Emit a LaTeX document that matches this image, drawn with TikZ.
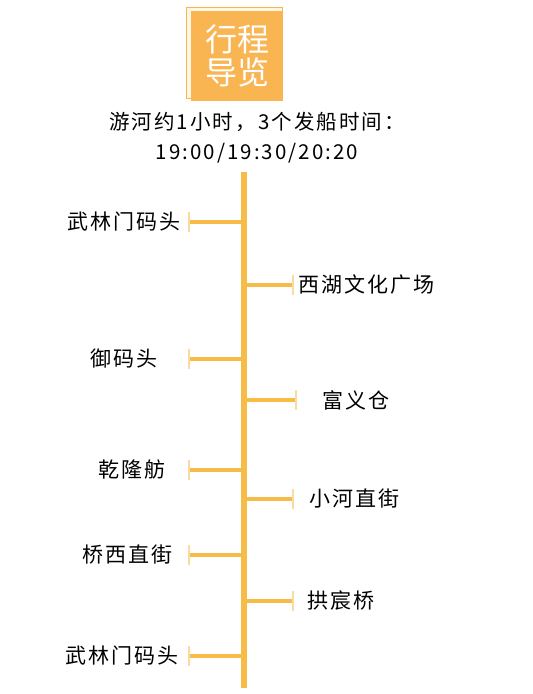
\documentclass[tikz,border=0pt]{standalone}
\usepackage{fontspec}
\newfontfamily\cjk{Noto Sans CJK SC}
\newfontfamily\cjkwide[LetterSpace=10]{Noto Sans CJK SC}
\usetikzlibrary{positioning}
\definecolor{lineorange}{RGB}{247,187,72}
\definecolor{titleorange}{RGB}{248,181,82}
\definecolor{tickorange}{RGB}{250,218,160}
\definecolor{cream}{RGB}{255,246,228}

\begin{document}
\begin{tikzpicture}[
        x=1pt, y=-1pt,
        station/.style={font=\cjkwide\fontsize{21}{25}\selectfont, inner sep=0pt, text=black},
        spine/.style={draw=lineorange, line width=6pt},
        branch/.style={draw=lineorange, line width=3.5pt},
        tickmark/.style={draw=tickorange, line width=1.3pt}
    ]
    \useasboundingbox (0,0) rectangle (533,694);

    % Title card
    \node[draw=titleorange, fill=cream, line width=1pt, minimum width=96pt, minimum height=91pt, inner sep=0pt] (back) at (234.5,52.5) {};
    \node[fill=titleorange, minimum width=92pt, minimum height=90pt, inner sep=0pt, align=center, text=white, font=\cjk\fontsize{32}{33}\selectfont] (title) at (237,56) {行程\\导览};

    % Intro text
    \node[font=\cjkwide\fontsize{20.5}{30}\selectfont, align=center, inner sep=0pt, text=black] (intro) at (257,138) {游河约1小时，3个发船时间：\\19:00/19:30/20:20};

    % Spine
    \coordinate (top) at (243.5,172);
    \coordinate (bottom) at (243.5,688);
    \draw[spine] (top) -- (bottom);

    % Left stops
    \node[station, anchor=east] (wulin) at (181,222) {武林门码头};
    \node[station, anchor=east] (yu) at (158,359) {御码头};
    \node[station, anchor=east] (qianlong) at (166,470) {乾隆舫};
    \node[station, anchor=east] (qiaoxi) at (173,555) {桥西直街};
    \node[station, anchor=east] (wulinend) at (179,656) {武林门码头};

    % Right stops
    \node[station, anchor=west] (xihu) at (298,285) {西湖文化广场};
    \node[station, anchor=west] (fuyi) at (322,400) {富义仓};
    \node[station, anchor=west] (xiaohe) at (309,499) {小河直街};
    \node[station, anchor=west] (gongchen) at (307,601) {拱宸桥};

    % Branch points
    \coordinate (s1) at (243.5,222);  \coordinate (e1) at (189,222);
    \coordinate (s2) at (243.5,285);  \coordinate (e2) at (293,285);
    \coordinate (s3) at (243.5,359);  \coordinate (e3) at (189,359);
    \coordinate (s4) at (243.5,400);  \coordinate (e4) at (296,400);
    \coordinate (s5) at (243.5,470);  \coordinate (e5) at (189,470);
    \coordinate (s6) at (243.5,499);  \coordinate (e6) at (293,499);
    \coordinate (s7) at (243.5,555);  \coordinate (e7) at (189,555);
    \coordinate (s8) at (243.5,601);  \coordinate (e8) at (293,601);
    \coordinate (s9) at (243.5,656);  \coordinate (e9) at (189,656);

    % Branches
    \draw[branch] (s1) -- (e1);
    \draw[branch] (s2) -- (e2);
    \draw[branch] (s3) -- (e3);
    \draw[branch] (s4) -- (e4);
    \draw[branch] (s5) -- (e5);
    \draw[branch] (s6) -- (e6);
    \draw[branch] (s7) -- (e7);
    \draw[branch] (s8) -- (e8);
    \draw[branch] (s9) -- (e9);

    % End ticks
    \draw[tickmark] ([yshift=10pt]e1) -- ([yshift=-10pt]e1);
    \draw[tickmark] ([yshift=10pt]e2) -- ([yshift=-10pt]e2);
    \draw[tickmark] ([yshift=10pt]e3) -- ([yshift=-10pt]e3);
    \draw[tickmark] ([yshift=10pt]e4) -- ([yshift=-10pt]e4);
    \draw[tickmark] ([yshift=10pt]e5) -- ([yshift=-10pt]e5);
    \draw[tickmark] ([yshift=10pt]e6) -- ([yshift=-10pt]e6);
    \draw[tickmark] ([yshift=10pt]e7) -- ([yshift=-10pt]e7);
    \draw[tickmark] ([yshift=10pt]e8) -- ([yshift=-10pt]e8);
    \draw[tickmark] ([yshift=10pt]e9) -- ([yshift=-10pt]e9);

\end{tikzpicture}
\end{document}
